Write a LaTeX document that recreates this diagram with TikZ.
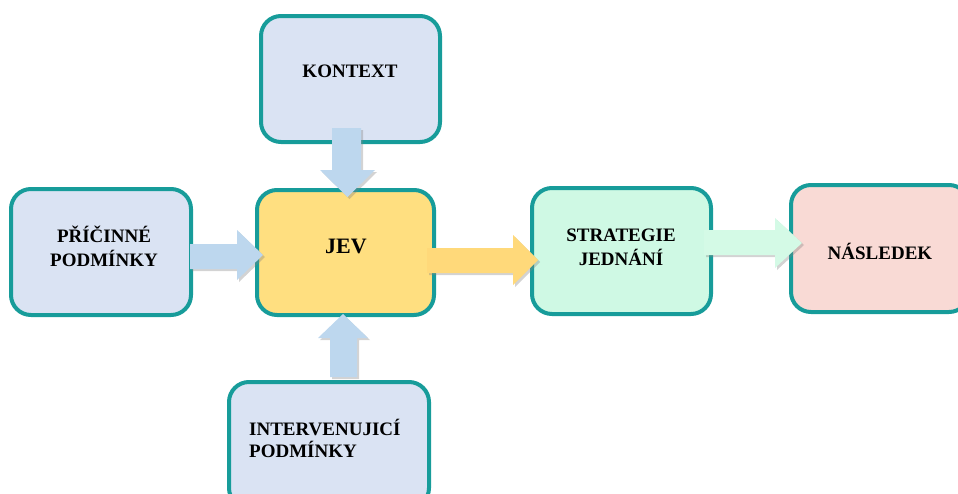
\documentclass[tikz,border=0pt]{standalone}
\usepackage{fontspec}
\setmainfont{Liberation Serif}
\usetikzlibrary{shadows}
\definecolor{tealb}{RGB}{23,156,154}
\definecolor{boxblue}{RGB}{218,227,243}
\definecolor{boxyellow}{RGB}{255,223,128}
\definecolor{boxmint}{RGB}{207,249,228}
\definecolor{boxpink}{RGB}{249,218,213}
\definecolor{arrblue}{RGB}{189,215,238}
\definecolor{arryellow}{RGB}{255,217,122}
\definecolor{arrmint}{RGB}{212,250,230}
\tikzset{
  box/.style={draw=tealb, line width=4pt, rounded corners=20pt, inner sep=0pt},
  lbl/.style={font=\bfseries\fontsize{19}{24}\selectfont, inner sep=0pt},
  blk/.style={draw=none, drop shadow={opacity=0.35, shadow xshift=2pt, shadow yshift=-2pt}},
}
\begin{document}
\begin{tikzpicture}[x=1pt,y=-1pt]
\useasboundingbox (0,0) rectangle (958,493);
% boxes
\node[box, fill=boxblue, minimum width=179pt, minimum height=126pt] (k) at (350.5,79) {};
\node[box, fill=boxblue, minimum width=180pt, minimum height=126pt] (p) at (101,252) {};
\node[box, fill=boxyellow, minimum width=177pt, minimum height=125pt] (j) at (345.5,252.5) {};
\node[box, fill=boxmint, minimum width=179pt, minimum height=126pt] (s) at (621.5,251) {};
\node[box, fill=boxpink, minimum width=178pt, minimum height=127pt] (n) at (880,248.5) {};
\node[box, fill=boxblue, minimum width=200pt, minimum height=126pt] (i) at (329,445) {};
% labels
\node[lbl] (kt) at (350,71) {KONTEXT};
\node[lbl, align=center] (pt) at (104,246) {PŘÍČINNÉ\\PODMÍNKY};
\node[lbl, font=\bfseries\fontsize{22}{26}\selectfont] (jt) at (346,246) {JEV};
\node[lbl, align=center] (st) at (621,247) {STRATEGIE\\JEDNÁNÍ};
\node[lbl] (nt) at (880,251) {NÁSLEDEK};
\node[lbl, align=left, anchor=west, font=\bfseries\fontsize{19}{22}\selectfont] (it) at (249,438) {INTERVENUJICÍ\\PODMÍNKY};
% block arrows
\fill[blk, arrblue] (332,128) -- (361,128) -- (361,170) -- (375,170) -- (347.5,197) -- (320,170) -- (332,170) -- cycle;
\fill[blk, arrblue] (190,244) -- (237,244) -- (237,230) -- (263,255) -- (237,280) -- (237,269) -- (190,269) -- cycle;
\fill[blk, arryellow] (427,248) -- (513,248) -- (513,235) -- (538,260) -- (513,285) -- (513,273) -- (427,273) -- cycle;
\fill[blk, arrmint] (704,230) -- (775,230) -- (775,218) -- (802,243) -- (775,268) -- (775,255) -- (704,255) -- cycle;
\fill[blk, arrblue] (330,377) -- (330,338) -- (318,338) -- (343,314) -- (368,338) -- (357,338) -- (357,377) -- cycle;
\end{tikzpicture}
\end{document}
